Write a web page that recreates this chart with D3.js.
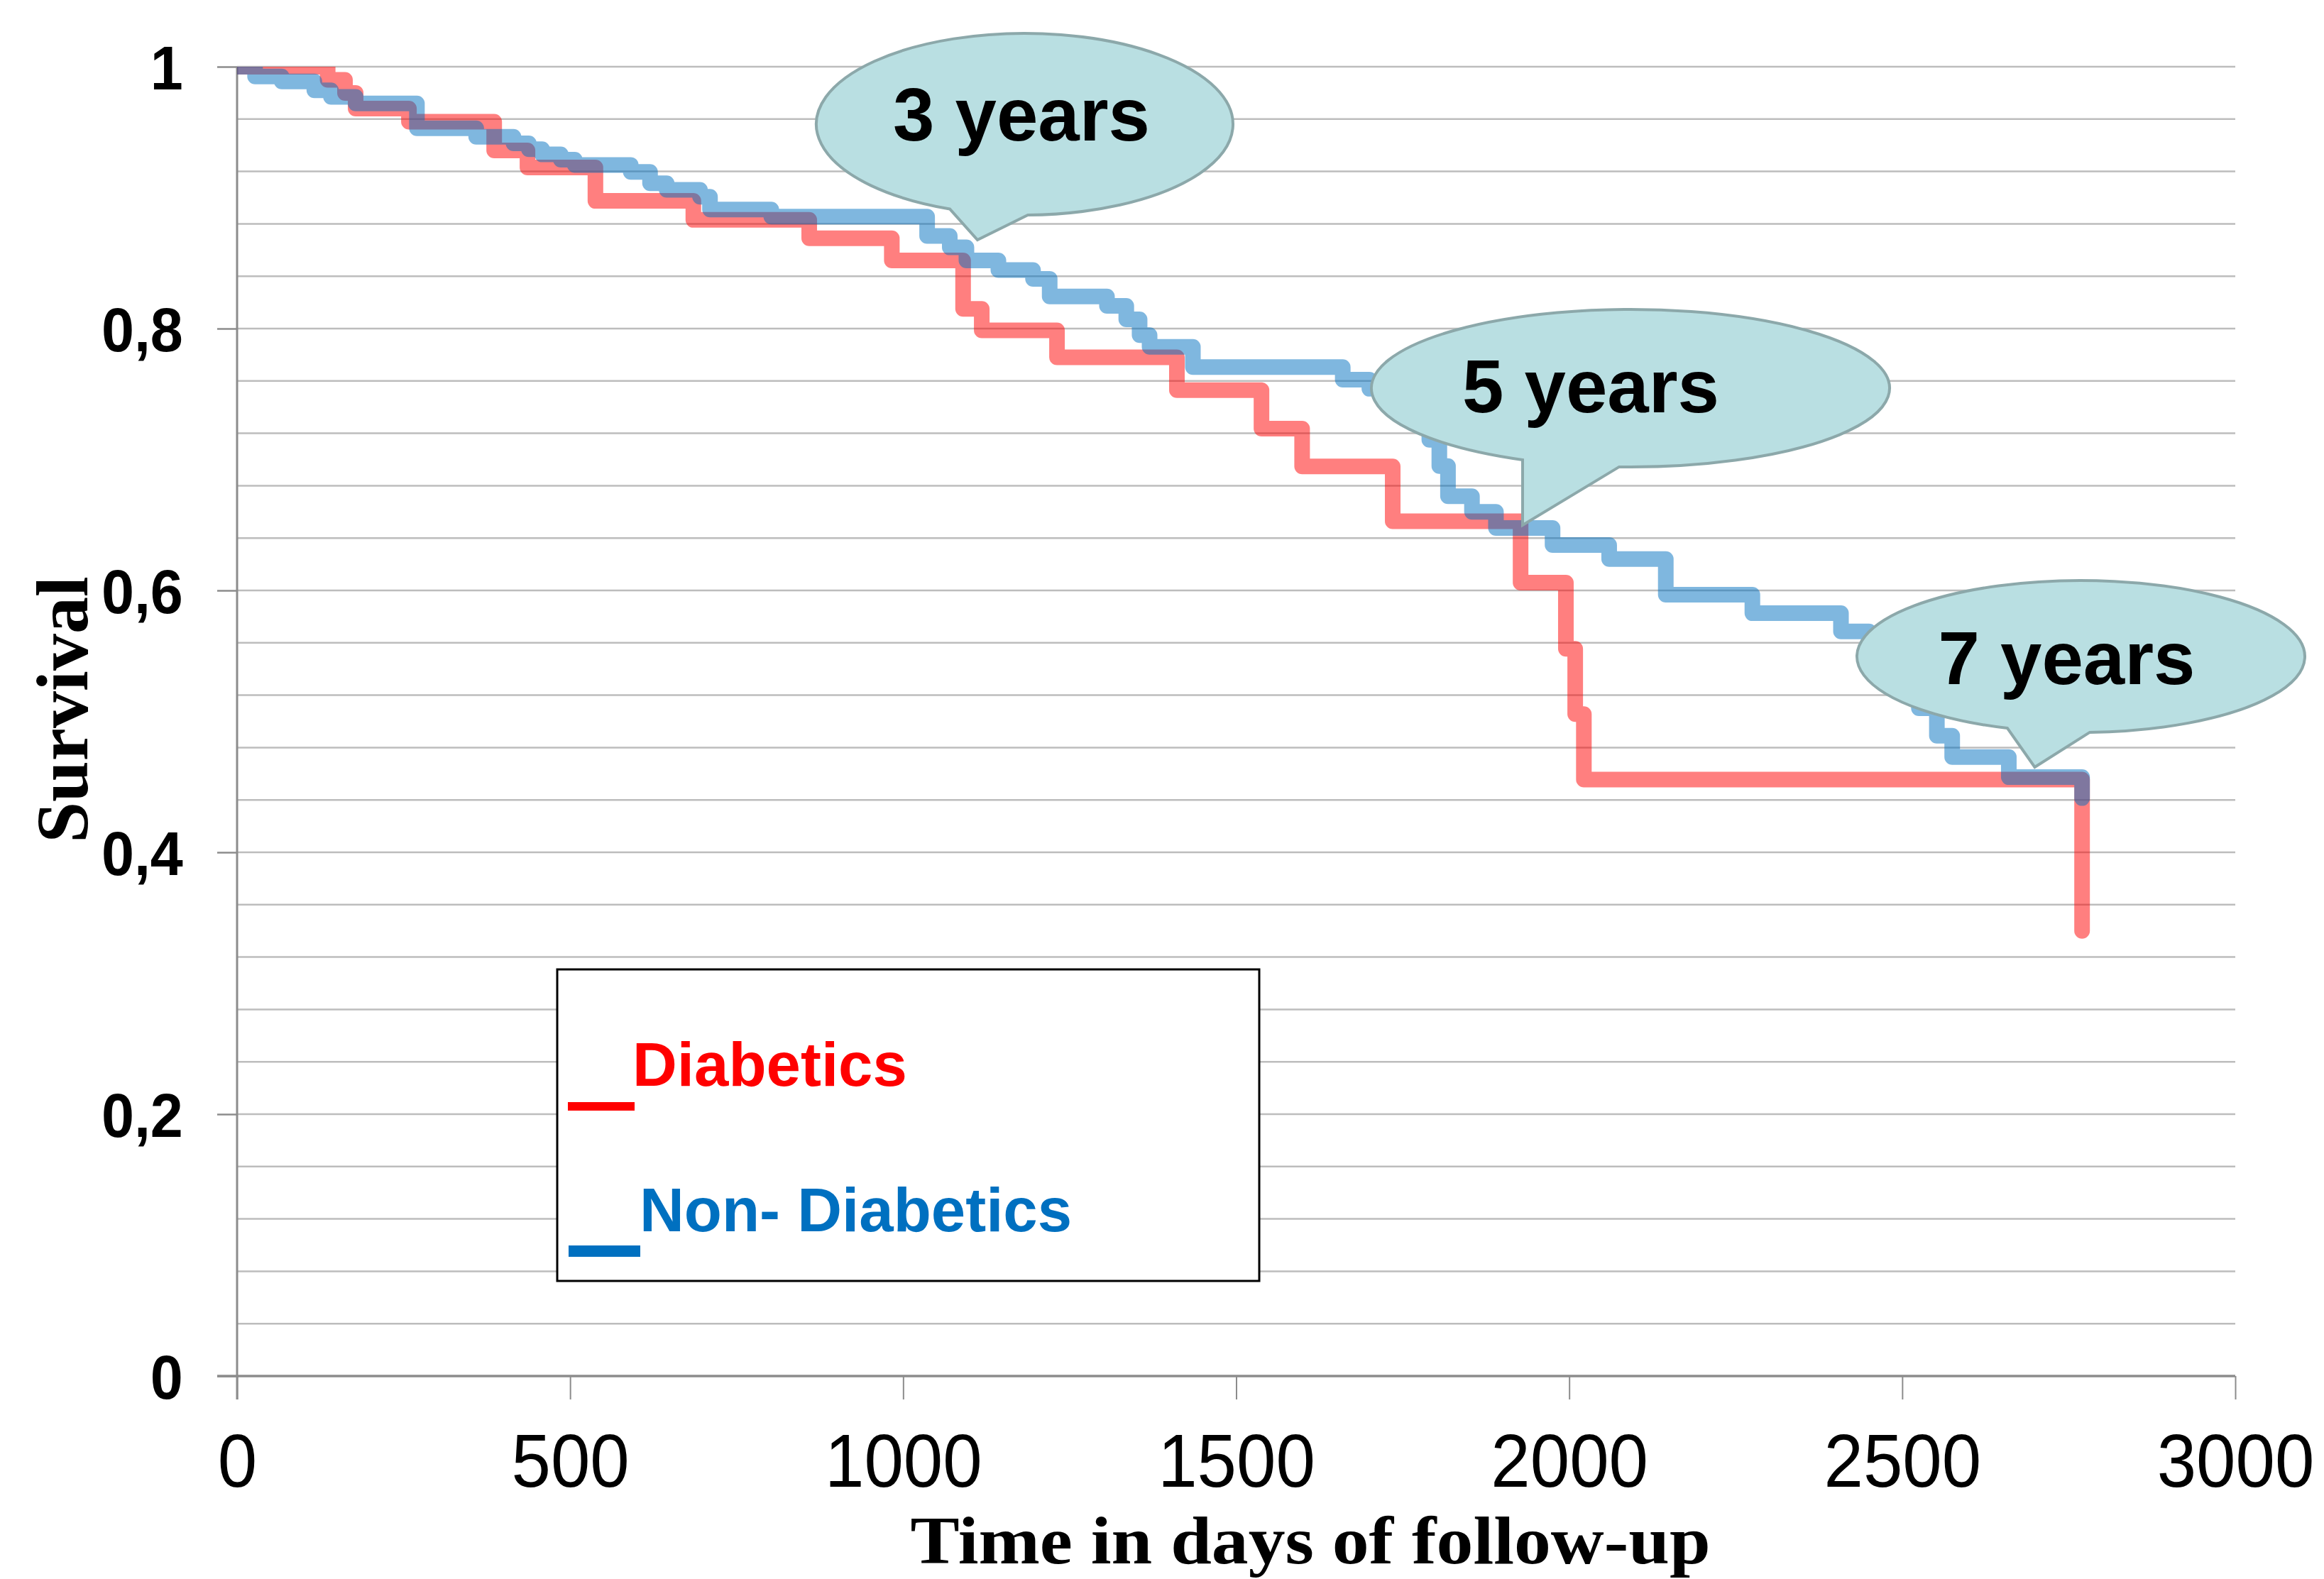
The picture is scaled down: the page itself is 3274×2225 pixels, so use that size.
<!DOCTYPE html>
<html><head><meta charset="utf-8">
<script src="https://cdn.jsdelivr.net/npm/d3@7"></script>
<style>html,body{margin:0;padding:0;background:#fff}</style>
</head><body>
<svg id="chart" width="3274" height="2225"></svg>
<script>
// ---------------- data ----------------
const diabeticsDays = [0,136,162,178,258,386,436,538,685,859,983,1090,1118,1231,1411,1538,1599,1735,1927,1995,2009,2022,2770];
const diabeticsSurv = [1,0.990,0.980,0.968,0.958,0.936,0.923,0.8975,0.883,0.869,0.852,0.815,0.7986,0.778,0.753,0.7236,0.6947,0.6528,0.606,0.5554,0.5056,0.4556,0.34];

const nonDiabeticsDays = [0,27,67,116,141,178,270,359,415,438,458,486,507,591,620,645,695,710,802,1036,1070,1095,1143,1195,1220,1306,1335,1355,1370,1435,1660,1700,1750,1790,1805,1818,1854,1890,1975,2060,2145,2275,2408,2450,2500,2525,2552,2575,2660,2770];
const nonDiabeticsSurv = [1,0.9925,0.9888,0.982,0.977,0.972,0.953,0.9465,0.9415,0.937,0.933,0.929,0.925,0.9197,0.911,0.906,0.9007,0.8909,0.8855,0.8707,0.862,0.852,0.8447,0.838,0.8245,0.8173,0.807,0.795,0.786,0.7706,0.761,0.754,0.735,0.715,0.695,0.672,0.66,0.6477,0.6347,0.624,0.5967,0.5826,0.5687,0.55,0.53,0.51,0.489,0.4728,0.4574,0.4414];

const seriesNames = ['Diabetics', 'Non- Diabetics'];
const xTicks = [0, 500, 1000, 1500, 2000, 2500, 3000];
const yTicks = [0, 0.2, 0.4, 0.6, 0.8, 1];
const yTickLabels = ['0', '0,2', '0,4', '0,6', '0,8', '1'];
const calloutLabels = ['3 years', '5 years', '7 years'];
const xTitle = 'Time in days of follow-up';
const yTitle = 'Survival';

// ---------------- layout ----------------
const W = 3274, H = 2225;
const x = d3.scaleLinear().domain([0, 3000]).range([334, 3149]);
const y = d3.scaleLinear().domain([0, 1]).range([1939, 94]);
const SANS = "'Liberation Sans', Arial, sans-serif";
const SERIF = "'Liberation Serif', 'Times New Roman', serif";
const axisGray = '#8c8c8c';
const gridGray = '#bdbdbd';

const svg = d3.select('#chart');
svg.append('rect').attr('width', W).attr('height', H).attr('fill', '#fff');

// gridlines every 0.04
const gridVals = d3.range(1, 26).map(i => +(i * 0.04).toFixed(2));
svg.append('g').selectAll('line').data(gridVals).join('line')
  .attr('x1', x(0)).attr('x2', x(3000))
  .attr('y1', d => y(d)).attr('y2', d => y(d))
  .attr('stroke', gridGray).attr('stroke-width', 2.5);

// y axis
const yAxis = d3.axisLeft(y).tickValues(yTicks).tickSize(28).tickFormat((d, i) => yTickLabels[i]);
const gy = svg.append('g').attr('transform', `translate(${x(0)},0)`).call(yAxis);
gy.select('.domain').remove();
gy.selectAll('.tick line').attr('stroke', axisGray).attr('stroke-width', 2.5);
gy.selectAll('.tick text')
  .attr('x', -81).attr('dy', '0.36em')
  .attr('transform', 'scale(0.94,1)')
  .attr('fill', '#000')
  .style('font-family', SANS).style('font-size', '88px').style('font-weight', 'bold');

// x axis
const xAxis = d3.axisBottom(x).tickValues(xTicks).tickSize(33).tickFormat(d3.format('d'));
const gx = svg.append('g').attr('transform', `translate(0,${y(0)})`).call(xAxis);
gx.select('.domain').remove();
gx.selectAll('.tick line').attr('stroke', axisGray).attr('stroke-width', 2);
gx.selectAll('.tick text')
  .attr('y', 156).attr('dy', null)
  .attr('transform', 'scale(0.94,1)')
  .attr('fill', '#000')
  .style('font-family', SANS).style('font-size', '106px');

// axis lines
svg.append('line').attr('x1', 306).attr('x2', x(3000)).attr('y1', y(0)).attr('y2', y(0))
  .attr('stroke', axisGray).attr('stroke-width', 3.5);
svg.append('line').attr('x1', x(0)).attr('x2', x(0)).attr('y1', y(1)).attr('y2', y(0) + 33)
  .attr('stroke', axisGray).attr('stroke-width', 3);

// titles
svg.append('text').attr('transform', 'translate(1846,2203) scale(1.08,1)').attr('text-anchor', 'middle')
  .style('font-family', SERIF).style('font-size', '96px').style('font-weight', 'bold')
  .text(xTitle);
svg.append('text').attr('transform', 'translate(123,1000) rotate(-90)').attr('text-anchor', 'middle')
  .style('font-family', SERIF).style('font-size', '104px').style('font-weight', 'bold')
  .text(yTitle);

// survival curves
svg.append('clipPath').attr('id', 'plotclip').append('rect')
  .attr('x', x(0)).attr('y', y(1)).attr('width', x(3000) - x(0)).attr('height', y(0) - y(1) + 40);
const line = d3.line().x(d => x(d[0])).y(d => y(d[1])).curve(d3.curveStepAfter);
const series = [
  { name: seriesNames[0], pts: diabeticsDays.map((t, i) => [t, diabeticsSurv[i]]), color: '#ff0000' },
  { name: seriesNames[1], pts: nonDiabeticsDays.map((t, i) => [t, nonDiabeticsSurv[i]]), color: '#0070c0' }
];
const gLines = svg.append('g').attr('clip-path', 'url(#plotclip)');
gLines.selectAll('path').data(series).join('path')
  .attr('d', d => line(d.pts))
  .attr('fill', 'none')
  .attr('stroke', d => d.color).attr('stroke-opacity', 0.5)
  .attr('stroke-width', 22)
  .attr('stroke-linejoin', 'round').attr('stroke-linecap', 'round');

// callouts (pixel layout)
const calloutLayout = [
  { cx: 1443.5, cy: 175, rx: 293.5, ry: 128, b1: 1338, b2: 1448, tx: 1377, ty: 338, lx: 1439, ly: 198 },
  { cx: 2297, cy: 547, rx: 365, ry: 111, b1: 2145, b2: 2281, tx: 2145, ty: 740, lx: 2241, ly: 581 },
  { cx: 2931.5, cy: 925, rx: 315.5, ry: 107, b1: 2828, b2: 2944, tx: 2866.5, ty: 1081, lx: 2911.5, ly: 964 }
];
function calloutPath(c) {
  const by = bx => c.cy + c.ry * Math.sqrt(Math.max(0, 1 - ((bx - c.cx) / c.rx) ** 2));
  return `M${c.b2},${by(c.b2)} A${c.rx},${c.ry} 0 1 0 ${c.b1},${by(c.b1)} L${c.tx},${c.ty} Z`;
}
const gc = svg.append('g');
calloutLayout.forEach((c, i) => {
  gc.append('path').attr('d', calloutPath(c))
    .attr('fill', '#b9dfe2').attr('stroke', '#8ca8aa').attr('stroke-width', 4)
    .attr('stroke-linejoin', 'miter');
  gc.append('text').attr('x', c.lx).attr('y', c.ly).attr('text-anchor', 'middle')
    .style('font-family', SANS).style('font-size', '105px').style('font-weight', 'bold')
    .attr('fill', '#000').text(calloutLabels[i]);
});

// legend
const gl = svg.append('g');
gl.append('rect').attr('x', 785).attr('y', 1366).attr('width', 989).attr('height', 439)
  .attr('fill', '#fff').attr('stroke', '#000').attr('stroke-width', 3);
const legendLayout = [
  { bx: 800, by: 1553, bw: 94, bh: 12, tx: 891, ty: 1530, color: '#ff0000' },
  { bx: 801, by: 1755, bw: 101, bh: 16, tx: 901, ty: 1735, color: '#0070c0' }
];
legendLayout.forEach((l, i) => {
  gl.append('rect').attr('x', l.bx).attr('y', l.by).attr('width', l.bw).attr('height', l.bh).attr('fill', l.color);
  gl.append('text').attr('x', l.tx).attr('y', l.ty)
    .style('font-family', SANS).style('font-size', '87px').style('font-weight', 'bold')
    .attr('fill', l.color).text(seriesNames[i]);
});
</script>
</body></html>
